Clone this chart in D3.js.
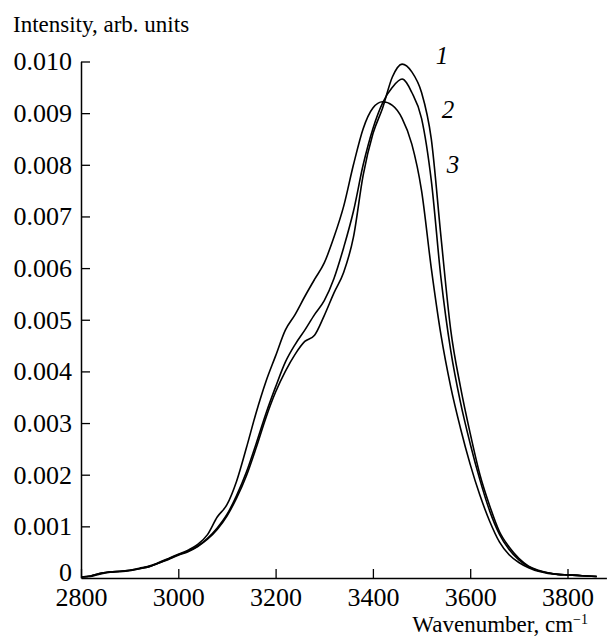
<!DOCTYPE html>
<html>
<head>
<meta charset="utf-8">
<script src="https://cdn.jsdelivr.net/npm/d3@7"></script>
<style>
	body { margin: 0; background: #fff; }
	svg { display: block; }
</style>
</head>
<body>
<div id="chart"></div>
<script>
// wavenumber grid, cm-1
const wavenumbers = [2800, 2820, 2840, 2860, 2880, 2900, 2920, 2940, 2960, 2980,
	3000, 3020, 3040, 3060, 3080, 3100, 3120, 3140, 3160, 3180,
	3200, 3220, 3240, 3260, 3280, 3300, 3320, 3340, 3360, 3380,
	3400, 3420, 3440, 3460, 3480, 3500, 3520, 3540, 3560, 3580,
	3600, 3620, 3640, 3660, 3680, 3700, 3720, 3740, 3760, 3780,
	3800, 3820, 3840, 3860];

const curve1 = [0.00002, 0.00003, 0.00008, 0.00011, 0.00012, 0.00014, 0.00018, 0.00022, 0.00029, 0.00036,
	0.00044, 0.00051, 0.00061, 0.00075, 0.00094, 0.0012, 0.00155, 0.00198, 0.00252, 0.0031,
	0.0036, 0.0040, 0.00433, 0.00458, 0.0047, 0.00508, 0.00552, 0.00592, 0.0066, 0.0078,
	0.0086, 0.0091, 0.0097, 0.00995, 0.0098, 0.0094, 0.0085, 0.0066, 0.0048, 0.0037,
	0.0028, 0.0020, 0.0014, 0.0009, 0.0006, 0.00038, 0.00023, 0.00015, 0.0001, 0.00007,
	0.00006, 0.00005, 0.00004, 0.00003];

const curve2 = [0.00002, 0.00004, 0.00009, 0.00012, 0.00013, 0.00015, 0.00018, 0.00022, 0.00029, 0.00037,
	0.00045, 0.00052, 0.00062, 0.00077, 0.00097, 0.00123, 0.0016, 0.00205, 0.0026, 0.00318,
	0.0037, 0.00418, 0.00452, 0.0048, 0.0051, 0.00537, 0.0058, 0.0064, 0.0071, 0.0080,
	0.0087, 0.0092, 0.0095, 0.00966, 0.0094, 0.0089, 0.0077, 0.0058, 0.0044, 0.0034,
	0.0026, 0.0019, 0.0013, 0.00085, 0.00055, 0.00035, 0.00022, 0.00014, 0.0001, 0.00007,
	0.00006, 0.00005, 0.00004, 0.00003];

const curve3 = [0.00002, 0.00004, 0.00009, 0.00012, 0.00013, 0.00015, 0.00019, 0.00023, 0.0003, 0.00038,
	0.00046, 0.00054, 0.00065, 0.00084, 0.00118, 0.00142, 0.00188, 0.00252, 0.0032, 0.0038,
	0.0043, 0.0048, 0.0051, 0.00545, 0.00578, 0.0061, 0.0066, 0.0072, 0.0080, 0.0087,
	0.0091, 0.00922, 0.00915, 0.0089, 0.0084, 0.0075, 0.0060, 0.0047, 0.0037, 0.0029,
	0.0022, 0.0016, 0.0011, 0.0007, 0.00045, 0.0003, 0.0002, 0.00013, 0.00009, 0.00007,
	0.00006, 0.00005, 0.00004, 0.00003];

const curveNames = ["1", "2", "3"];
const xTicks = [2800, 3000, 3200, 3400, 3600, 3800];
const yTicks = [0, 0.001, 0.002, 0.003, 0.004, 0.005, 0.006, 0.007, 0.008, 0.009, 0.010];

const width = 610, height = 637;
const margin = {top: 61.5, right: 4, bottom: 59, left: 81};
const font = "'Liberation Serif', 'Times New Roman', serif";

let svg = d3.select("#chart").append("svg")
	.attr("width", width)
	.attr("height", height)
	.style("font-family", font);

let x = d3.scaleLinear()
	.domain([2800, 3880])
	.range([margin.left, margin.left + 1080 * 0.4865]);

let y = d3.scaleLinear()
	.domain([0, 0.010])
	.range([height - margin.bottom, margin.top]);

// x axis, ticks point inward
let xAxis = svg.append("g")
	.attr("transform", `translate(0,${y(0)})`)
	.call(d3.axisBottom(x)
		.tickValues(xTicks)
		.tickSizeInner(-9)
		.tickSizeOuter(0)
		.tickPadding(10)
		.tickFormat(d3.format("d")));
xAxis.select(".domain").attr("stroke-width", 1.5);
xAxis.selectAll(".tick line").attr("stroke-width", 1.3);
xAxis.selectAll(".tick text")
	.attr("dy", "0.71em")
	.style("font-size", "26px")
	.style("font-family", font)
	.attr("fill", "#000");

let yAxis = svg.append("g")
	.attr("transform", `translate(${x(2800)},0)`)
	.call(d3.axisLeft(y)
		.tickValues(yTicks)
		.tickSizeInner(-9)
		.tickSizeOuter(0)
		.tickPadding(9)
		.tickFormat(d => d === 0 ? "0" : d3.format(".3f")(d)));
yAxis.select(".domain").attr("stroke-width", 1.5);
yAxis.selectAll(".tick line")
	.attr("stroke-width", 1.3)
	.attr("opacity", d => d === 0 ? 0 : 1);
yAxis.selectAll(".tick text")
	.style("font-size", "26px")
	.style("font-family", font)
	.attr("fill", "#000");
// the zero label sits a little higher, just clear of "2800"
yAxis.selectAll(".tick text")
	.filter(d => d === 0)
	.attr("dy", "0.1em");

// spectra
let series = [curve1, curve2, curve3].map((vals, i) => ({
	name: curveNames[i],
	points: wavenumbers.map((w, j) => ({w, v: vals[j]}))
}));

let line = d3.line()
	.x(d => x(d.w))
	.y(d => y(d.v))
	.curve(d3.curveMonotoneX);

svg.selectAll("path.spectrum")
	.data(series)
	.enter()
	.append("path")
	.attr("class", "spectrum")
	.attr("fill", "none")
	.attr("stroke", "#000")
	.attr("stroke-width", 1.6)
	.attr("stroke-linejoin", "round")
	.attr("d", d => line(d.points));

// curve numbers
const labelPos = [{x: 442, y: 64}, {x: 448, y: 118}, {x: 453, y: 173}];
svg.selectAll("text.curve-label")
	.data(curveNames)
	.enter()
	.append("text")
	.attr("class", "curve-label")
	.attr("x", (d, i) => labelPos[i].x)
	.attr("y", (d, i) => labelPos[i].y)
	.attr("text-anchor", "middle")
	.style("font-size", "25px")
	.style("font-style", "italic")
	.text(d => d);

svg.append("text")
	.attr("x", 13)
	.attr("y", 32)
	.style("font-size", "23px")
	.text("Intensity, arb. units");

let xTitle = svg.append("text")
	.attr("x", 588)
	.attr("y", 632)
	.attr("text-anchor", "end")
	.style("font-size", "23px");
xTitle.append("tspan").text("Wavenumber, cm");
xTitle.append("tspan")
	.attr("dy", -8)
	.style("font-size", "14px")
	.text("\u22121");
</script>
</body>
</html>
